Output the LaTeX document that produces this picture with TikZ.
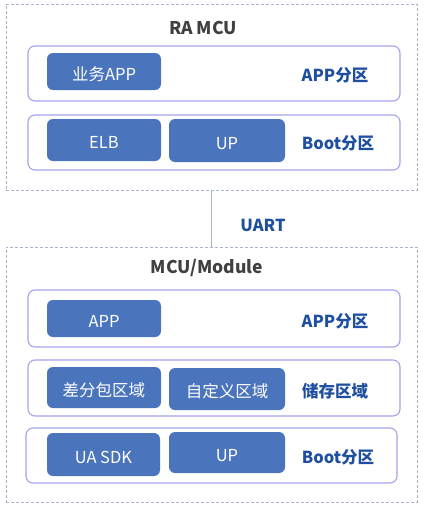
\documentclass[tikz,border=0pt]{standalone}
\usepackage{fontspec}
\setmainfont{Noto Sans CJK SC}
\definecolor{boxblue}{HTML}{4A74BC}
\definecolor{lblblue}{HTML}{1F4FA0}
\definecolor{rowline}{HTML}{A4A2E8}
\definecolor{dashline}{HTML}{A8B4C8}
\definecolor{titlegray}{HTML}{404040}
\tikzset{
  outerbox/.style={draw=dashline, line width=0.9pt, dash pattern=on 3pt off 2pt, inner sep=0pt},
  rowbox/.style={draw=rowline, line width=1.1pt, rounded corners=7pt, fill=white, inner sep=0pt},
  block/.style={fill=boxblue, rounded corners=6pt, inner sep=0pt, text=white, text height=17pt, text depth=0pt, font=\fontsize{16.5}{18}\selectfont},
  lbl/.style={text=lblblue, font=\bfseries\fontsize{16.5}{18}\selectfont, inner sep=0pt},
  title/.style={text=titlegray, font=\bfseries\fontsize{17.5}{19}\selectfont, inner sep=0pt},
  link/.style={draw=dashline, line width=0.9pt}
}
\begin{document}
\begin{tikzpicture}[x=1pt,y=-1pt]
\useasboundingbox (0,0) rectangle (426,507);
% outer dashed boxes
\node[outerbox, minimum width=411pt, minimum height=186pt] (top) at (211.5,97) {};
\node[outerbox, minimum width=411pt, minimum height=255pt] (bot) at (211.5,374.5) {};
\draw[link] (top.south) -- (bot.north);
\node[lbl] (uart) at (263,225) {UART};
% top
\node[title] (ra) at (203,28) {RA MCU};
\node[rowbox, minimum width=372pt, minimum height=55pt] (r1) at (214,73.5) {};
\node[rowbox, minimum width=372pt, minimum height=55pt] (r2) at (214,142.5) {};
\node[block, minimum width=114pt, minimum height=37pt] (b1) at (104,71.5) {业务APP};
\node[block, minimum width=114pt, minimum height=42pt] (b2) at (104,140) {ELB};
\node[block, minimum width=116pt, minimum height=43pt] (b3) at (227,140.5) {UP};
\node[lbl] (l1) at (335,75) {APP分区};
\node[lbl] (l2) at (338,143) {Boot分区};
% bottom
\node[title] (mm) at (207,268) {MCU/Module};
\node[rowbox, minimum width=372pt, minimum height=57pt] (r3) at (214,318.5) {};
\node[rowbox, minimum width=372pt, minimum height=56pt] (r4) at (214,388) {};
\node[rowbox, minimum width=371pt, minimum height=55pt] (r5) at (211.5,455.5) {};
\node[block, minimum width=114pt, minimum height=37pt] (b4) at (104,318.5) {APP};
\node[block, minimum width=114pt, minimum height=41pt] (b5) at (104,387.5) {差分包区域};
\node[block, minimum width=116pt, minimum height=42pt] (b6) at (227,389) {自定义区域};
\node[block, minimum width=113pt, minimum height=43pt] (b7) at (103.5,454.5) {UA SDK};
\node[block, minimum width=116pt, minimum height=41pt] (b8) at (227,452.5) {UP};
\node[lbl] (l3) at (335,321) {APP分区};
\node[lbl] (l4) at (335,391) {储存区域};
\node[lbl] (l5) at (338,457) {Boot分区};
\end{tikzpicture}
\end{document}
